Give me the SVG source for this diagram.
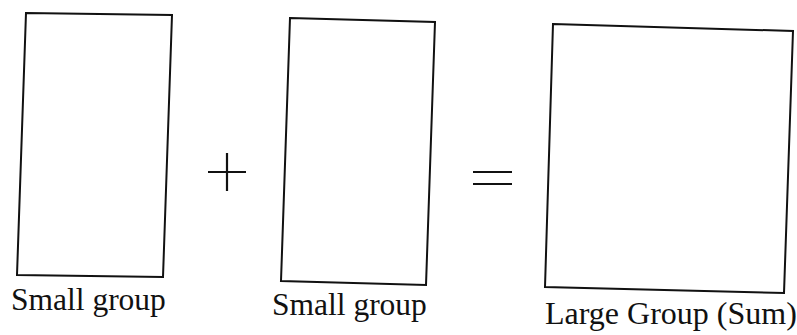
<svg xmlns="http://www.w3.org/2000/svg" width="797" height="335" viewBox="0 0 797 335">
<style>
.box{fill:none;stroke:#111;stroke-width:2;stroke-linejoin:miter}
.op{stroke:#111;stroke-width:2.2;fill:none}
.lbl{font-family:"Liberation Serif","Times New Roman",serif;font-size:31.5px;fill:#111}
</style>
<rect width="797" height="335" fill="#fff"/>
<g id="small1">
<polygon class="box" points="26,13 172,15 163,277 17,275"/>
<text class="lbl" x="11" y="310">Small group</text>
</g>
<g id="small2">
<polygon class="box" points="290,18 435,22 426,285 281,281"/>
<text class="lbl" x="272" y="315">Small group</text>
</g>
<g id="large">
<polygon class="box" points="553,24 793,31 784,293 545,287"/>
<text class="lbl" x="545" y="324" style="font-size:32px">Large Group (Sum)</text>
</g>
<g id="connectors">
<g id="plus">
<line class="op" x1="208" y1="172" x2="246" y2="172"/>
<line class="op" x1="227" y1="153" x2="227" y2="191"/>
</g>
<g id="equals">
<line class="op" x1="473" y1="172" x2="512" y2="172"/>
<line class="op" x1="473" y1="184" x2="512" y2="184"/>
</g>
</g>
</svg>
